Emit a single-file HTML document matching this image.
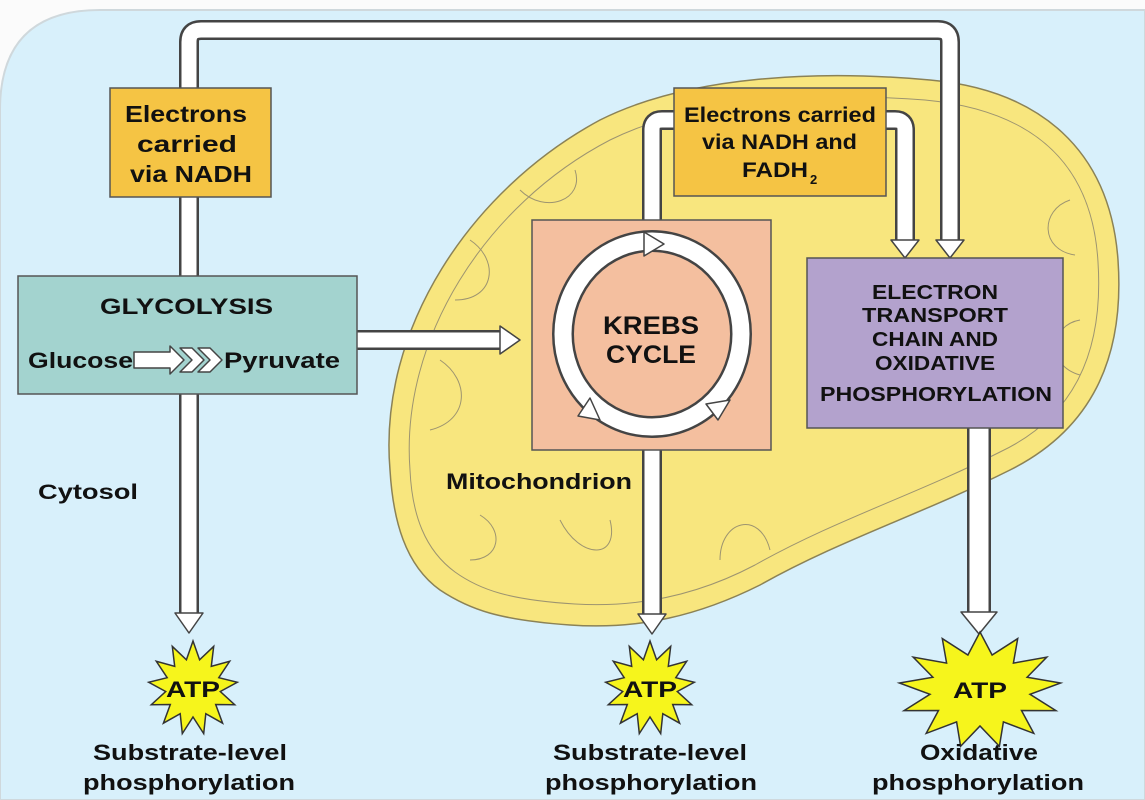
<!DOCTYPE html>
<html><head><meta charset="utf-8"><style>
html,body{margin:0;padding:0;background:#fff;}
svg{display:block;}
text{font-family:"Liberation Sans",sans-serif;font-weight:bold;fill:#111;}
</style></head><body>
<svg width="1145" height="800" viewBox="0 0 1145 800" xmlns="http://www.w3.org/2000/svg">
<rect width="1145" height="800" fill="#fbfbfb"/>
<path d="M0,110 Q0,10 100,10 H1145 V800 H0 Z" fill="#d8f0fb" stroke="#cfd8dc" stroke-width="2"/>
<!-- mitochondrion -->
<path d="M390,470 C378,330 470,190 600,120 C690,75 820,70 930,80 C1040,90 1110,150 1118,260 C1125,360 1090,430 1010,470 C920,515 840,540 760,585 C700,615 640,630 570,625 C500,620 470,610 440,590 C405,565 393,520 390,470 Z" fill="#f8e67e" stroke="#8b8256" stroke-width="1.5"/>
<path d="M410,470 C400,340 485,205 610,140 C695,98 820,92 925,100 C1030,110 1092,160 1098,262 C1104,355 1072,418 1000,452 C915,495 835,520 755,565 C700,594 640,608 575,604 C510,600 480,590 455,572 C425,550 412,515 410,470 Z" fill="none" stroke="#9d9470" stroke-width="1"/>
<path d="M430,430 C470,420 470,380 440,360 M455,300 C495,300 500,260 470,240 M520,190 C545,215 585,200 575,170 M760,110 C760,140 800,140 800,110 M1070,200 C1040,210 1040,250 1075,255 M1080,320 C1050,325 1045,365 1080,375 M560,520 C580,560 620,560 610,520 M720,560 C720,520 760,510 770,550 M470,560 C500,560 505,530 480,515" fill="none" stroke="#9d9470" stroke-width="1"/>
<!-- pipes -->
<g fill="none" stroke-linejoin="round">
<path d="M189,615 V42 Q189,30 201,30 H938 Q950,30 950,42 V242" stroke="#444" stroke-width="20"/>
<path d="M189,615 V42 Q189,30 201,30 H938 Q950,30 950,42 V242" stroke="#fff" stroke-width="15"/>
<path d="M652,222 V130 Q652,120 662,120 H676" stroke="#444" stroke-width="20"/>
<path d="M652,222 V130 Q652,120 662,120 H676" stroke="#fff" stroke-width="15"/>
<path d="M884,120 H895 Q905,120 905,130 V242" stroke="#444" stroke-width="20"/>
<path d="M884,120 H895 Q905,120 905,130 V242" stroke="#fff" stroke-width="15"/>
<path d="M652,448 V616" stroke="#444" stroke-width="20"/>
<path d="M652,448 V616" stroke="#fff" stroke-width="15"/>
<path d="M979,426 V614" stroke="#444" stroke-width="24"/>
<path d="M979,426 V614" stroke="#fff" stroke-width="19"/>
<path d="M356,340 H502" stroke="#444" stroke-width="20"/>
<path d="M356,340 H502" stroke="#fff" stroke-width="15"/>
</g>
<g fill="#fff" stroke="#444" stroke-width="1.5" stroke-linejoin="round">
<polygon points="175,613 203,613 189,633"/>
<polygon points="936,240 964,240 950,258"/>
<polygon points="891,240 919,240 905,258"/>
<polygon points="638,614 666,614 652,634"/>
<polygon points="961,612 997,612 979,634"/>
<polygon points="500,326 500,354 520,340"/>
</g>
<!-- boxes -->
<rect x="110" y="88" width="161" height="109" fill="#f5c444" stroke="#555" stroke-width="1.5"/>
<g font-size="23" lengthAdjust="spacingAndGlyphs">
<text x="125" y="122" textLength="122" lengthAdjust="spacingAndGlyphs">Electrons</text>
<text x="137" y="152" textLength="100" lengthAdjust="spacingAndGlyphs">carried</text>
<text x="130" y="182" textLength="122" lengthAdjust="spacingAndGlyphs">via NADH</text>
</g>
<rect x="674" y="88" width="212" height="108" fill="#f5c444" stroke="#555" stroke-width="1.5"/>
<text x="684" y="122" font-size="21" textLength="192" lengthAdjust="spacingAndGlyphs">Electrons carried</text>
<text x="702" y="149" font-size="21" textLength="155" lengthAdjust="spacingAndGlyphs">via NADH and</text>
<text x="742" y="177" font-size="21" textLength="66" lengthAdjust="spacingAndGlyphs">FADH</text>
<text x="810" y="184" font-size="13">2</text>
<rect x="18" y="276" width="339" height="118" fill="#a3d3cf" stroke="#555" stroke-width="1.5"/>
<text x="100" y="314" font-size="22" textLength="173" lengthAdjust="spacingAndGlyphs">GLYCOLYSIS</text>
<text x="28" y="368" font-size="22" textLength="105" lengthAdjust="spacingAndGlyphs">Glucose</text>
<text x="224" y="368" font-size="22" textLength="116" lengthAdjust="spacingAndGlyphs">Pyruvate</text>
<g fill="#fff" stroke="#444" stroke-width="1.5" stroke-linejoin="round">
<polygon points="134,352 170,352 170,346 184,360 170,374 170,368 134,368"/>
<polygon points="180,348 192,348 204,360 192,372 180,372 192,360"/>
<polygon points="198,348 210,348 222,360 210,372 198,372 210,360"/>
</g>
<rect x="532" y="220" width="239" height="230" fill="#f4bf9f" stroke="#555" stroke-width="1.5"/>
<ellipse cx="652" cy="334" rx="89" ry="93" fill="none" stroke="#444" stroke-width="22"/>
<ellipse cx="652" cy="334" rx="89" ry="93" fill="none" stroke="#fff" stroke-width="17"/>
<g fill="#fff" stroke="#444" stroke-width="1.5" stroke-linejoin="round">
<polygon points="644,232 644,256 664,244"/>
<polygon points="706,404 730,400 718,420"/>
<polygon points="590,398 600,420 578,416"/>
</g>
<text x="603" y="334" font-size="25" textLength="96" lengthAdjust="spacingAndGlyphs">KREBS</text>
<text x="606" y="363" font-size="25" textLength="90" lengthAdjust="spacingAndGlyphs">CYCLE</text>
<rect x="807" y="258" width="256" height="170" fill="#b3a2cd" stroke="#555" stroke-width="1.5"/>
<g font-size="20">
<text x="872" y="299" textLength="126" lengthAdjust="spacingAndGlyphs">ELECTRON</text>
<text x="862" y="322" textLength="146" lengthAdjust="spacingAndGlyphs">TRANSPORT</text>
<text x="872" y="346" textLength="126" lengthAdjust="spacingAndGlyphs">CHAIN AND</text>
<text x="875" y="370" textLength="120" lengthAdjust="spacingAndGlyphs">OXIDATIVE</text>
<text x="820" y="401" textLength="232" lengthAdjust="spacingAndGlyphs">PHOSPHORYLATION</text>
</g>
<text x="38" y="499" font-size="21" textLength="100" lengthAdjust="spacingAndGlyphs">Cytosol</text>
<text x="446" y="489" font-size="22" textLength="186" lengthAdjust="spacingAndGlyphs">Mitochondrion</text>
<!-- stars -->
<g id="stars" fill="#f6f51c" stroke="#333" stroke-width="1.5" stroke-linejoin="miter"></g>
<g font-size="22">
<text x="166" y="697" textLength="54" lengthAdjust="spacingAndGlyphs">ATP</text>
<text x="623" y="697" textLength="54" lengthAdjust="spacingAndGlyphs">ATP</text>
<text x="953" y="698" textLength="54" lengthAdjust="spacingAndGlyphs">ATP</text>
<text x="93" y="760" textLength="194" lengthAdjust="spacingAndGlyphs">Substrate-level</text>
<text x="83" y="790" textLength="212" lengthAdjust="spacingAndGlyphs">phosphorylation</text>
<text x="553" y="760" textLength="194" lengthAdjust="spacingAndGlyphs">Substrate-level</text>
<text x="545" y="790" textLength="212" lengthAdjust="spacingAndGlyphs">phosphorylation</text>
<text x="920" y="760" textLength="118" lengthAdjust="spacingAndGlyphs">Oxidative</text>
<text x="872" y="790" textLength="212" lengthAdjust="spacingAndGlyphs">phosphorylation</text>
</g>
</svg>
<script>
(function(){
var g=document.getElementById('stars');
function star(cx,cy,ro,ri,rx,n){
var p=[];for(var i=0;i<2*n;i++){var a=Math.PI*i/n-Math.PI/2;var r=i%2?ri:ro;p.push((cx+r*rx*Math.cos(a)).toFixed(1)+','+(cy+r*Math.sin(a)).toFixed(1));}
var e=document.createElementNS('http://www.w3.org/2000/svg','polygon');e.setAttribute('points',p.join(' '));g.appendChild(e);}
star(193,688,47,29,0.95,13);
star(650,688,47,29,0.95,13);
star(980,690,58,36,1.4,13);
})();
</script>
</body></html>
